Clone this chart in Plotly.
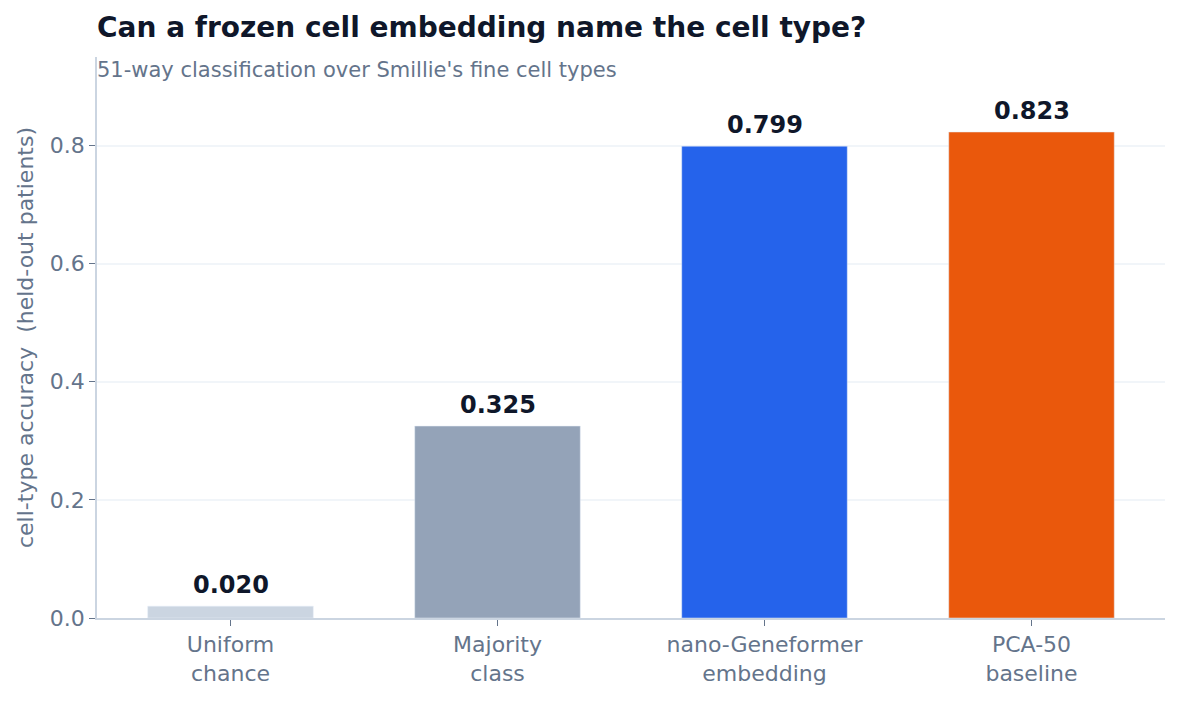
import plotly.graph_objects as go

# data
categories = ["Uniform<br>chance", "Majority<br>class", "nano-Geneformer<br>embedding", "PCA-50<br>baseline"]
accuracy = [0.020, 0.325, 0.799, 0.823]
bar_colors = ["#cbd5e1", "#94a3b8", "#2563eb", "#ea580c"]
y_ticks = [0.0, 0.2, 0.4, 0.6, 0.8]

FONT = "DejaVu Sans"
W, H = 1180, 701
ML, MR, MT, MB = 89, 23, 49, 91

fig = go.Figure()
fig.add_bar(
    x=categories,
    y=accuracy,
    marker_color=bar_colors,
    width=0.62,
    hoverinfo="skip",
)

# value labels sitting a little above each bar
labels = []
for cat, val in zip(categories, accuracy):
    labels.append(dict(
        x=cat, y=val, text="<b>%.3f</b>" % val,
        xref="x", yref="y", yanchor="bottom", yshift=5,
        showarrow=False,
        font=dict(family=FONT, size=24, color="#0f172a"),
    ))

labels.append(dict(
    text="51-way classification over Smillie's fine cell types",
    xref="paper", yref="paper", x=0, y=1 - 13 / (H - MT - MB),
    xanchor="left", yanchor="middle", showarrow=False, xshift=-2,
    font=dict(family=FONT, size=21, color="#64748b"),
))

fig.update_layout(
    width=W,
    height=H,
    margin=dict(l=ML, r=MR, t=MT, b=MB),
    paper_bgcolor="white",
    plot_bgcolor="white",
    font=dict(family=FONT, color="#64748b"),
    showlegend=False,
    title=dict(
        text="<b>Can a frozen cell embedding name the cell type?</b>",
        x=ML / W, xanchor="left",
        y=1 - 19 / H, yanchor="middle",
        font=dict(family=FONT, size=28, color="#0f172a"),
    ),
    annotations=labels,
)

fig.update_xaxes(
    showline=True, linecolor="#cbd5e1", linewidth=1.5,
    ticks="outside", tickcolor="#64748b", ticklen=6,
    tickfont=dict(size=22, color="#64748b"),
)
fig.update_yaxes(
    range=[0, 0.95], tickvals=y_ticks, tickformat=".1f",
    showline=True, linecolor="#cbd5e1", linewidth=1.5,
    ticks="outside", tickcolor="#64748b", ticklen=6,
    showgrid=True, gridcolor="#f1f5f9", gridwidth=1.5,
    zeroline=False,
    tickfont=dict(size=22, color="#64748b"),
    title=dict(text="cell-type accuracy  (held-out patients)", font=dict(size=22, color="#64748b"), standoff=10),
)

fig.write_html("out.html")
